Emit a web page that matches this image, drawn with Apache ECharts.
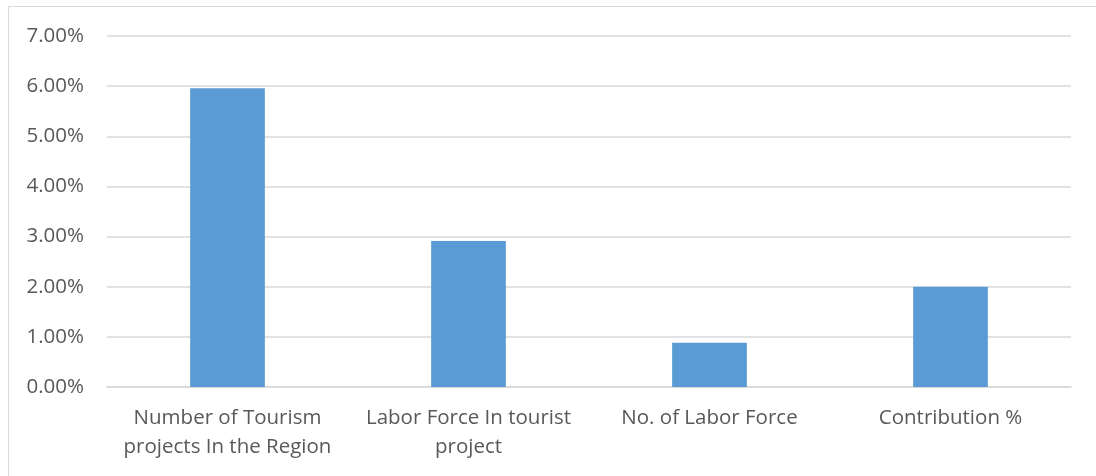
<!DOCTYPE html>
<html>
<head>
<meta charset="utf-8">
<script src="https://cdn.jsdelivr.net/npm/echarts@6/dist/echarts.min.js"></script>
<style>
html,body{margin:0;padding:0;background:#fff;}
#frame{position:absolute;left:8px;top:6px;width:1200px;height:600px;border:1px solid #d9d9d9;box-sizing:border-box;}
#chart{position:absolute;left:0;top:0;width:1096px;height:476px;}
</style>
</head>
<body>
<div id="frame"></div>
<div id="chart"></div>
<script>
const categories = ["Number of Tourism\nprojects In the Region", "Labor Force In tourist\nproject", "No. of Labor Force", "Contribution %"];
const values = [5.96, 2.91, 0.88, 2.00];
const yTicks = { min: 0, max: 7, interval: 1 };

const chart = echarts.init(document.getElementById('chart'), null, {renderer: 'canvas'});
const font = '"Open Sans", sans-serif';
chart.setOption({
  animation: false,
  backgroundColor: 'transparent',
  grid: { left: 107, right: 25, top: 36, bottom: 89, containLabel: false },
  xAxis: {
    type: 'category',
    data: categories,
    axisLine: { show: true, lineStyle: { color: '#d9d9d9', width: 1.5 } },
    axisTick: { show: false },
    axisLabel: { color: '#595959', fontFamily: font, fontSize: 20.5, lineHeight: 29, margin: 17, interval: 0 }
  },
  yAxis: {
    type: 'value',
    min: yTicks.min, max: yTicks.max, interval: yTicks.interval,
    axisLine: { show: false },
    axisTick: { show: false },
    splitLine: { lineStyle: { color: '#d9d9d9', width: 1.5 } },
    axisLabel: { color: '#595959', fontFamily: font, fontSize: 20.5, margin: 23, formatter: v => v.toFixed(2) + '%' }
  },
  series: [{
    type: 'bar',
    data: values,
    barCategoryGap: '69%',
    itemStyle: { color: '#5b9bd5' }
  }]
});
</script>
</body>
</html>
